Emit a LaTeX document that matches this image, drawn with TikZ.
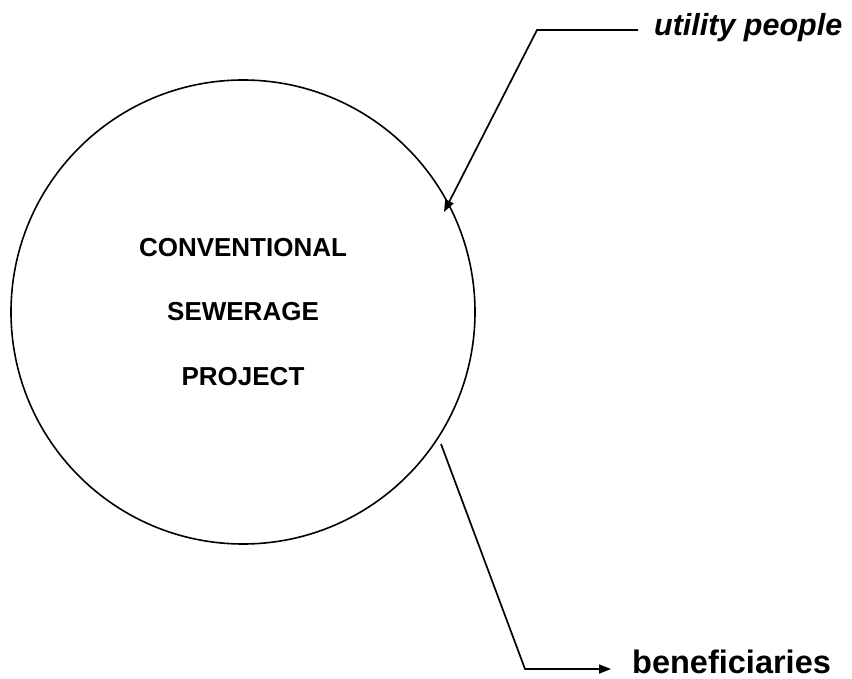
\documentclass[tikz,border=0pt]{standalone}
\usepackage{fontspec}
\setmainfont{Liberation Sans}
\usetikzlibrary{arrows.meta}
\begin{document}
\begin{tikzpicture}[x=1pt,y=-1pt,
  conn/.style={line width=1.7pt, -{Triangle[length=12pt,width=9pt]}},
  ring/.style={circle, draw, line width=1.6pt, minimum size=464pt, inner sep=0pt,
    align=center, font=\fontsize{26}{64.5}\selectfont\bfseries},
  tag/.style={anchor=base west, inner sep=0pt, font=\fontsize{32.5}{36}\selectfont\bfseries}]
  \useasboundingbox (0,0) rectangle (852,679);
  % project circle with its title
  \node[ring] (proj) at (243,312) {CONVENTIONAL\\SEWERAGE\\PROJECT};
  % stakeholder labels
  \node[tag, font=\fontsize{30.5}{36}\selectfont\bfseries\itshape] (util) at (654,36) {utility people};
  \node[tag] (bene) at (632,673) {beneficiaries};
  % bend points and ends of the connectors
  \coordinate (ubend) at (537,30);
  \coordinate (uend) at (444,212);
  \coordinate (bstart) at (441,444);
  \coordinate (bbend) at (525,669);
  \coordinate (bend2) at (611,669);
  \draw[conn] (util.west |- ubend) ++(-16,0) -- (ubend) -- (uend);
  \draw[conn] (bstart) -- (bbend) -- (bend2);
\end{tikzpicture}
\end{document}
